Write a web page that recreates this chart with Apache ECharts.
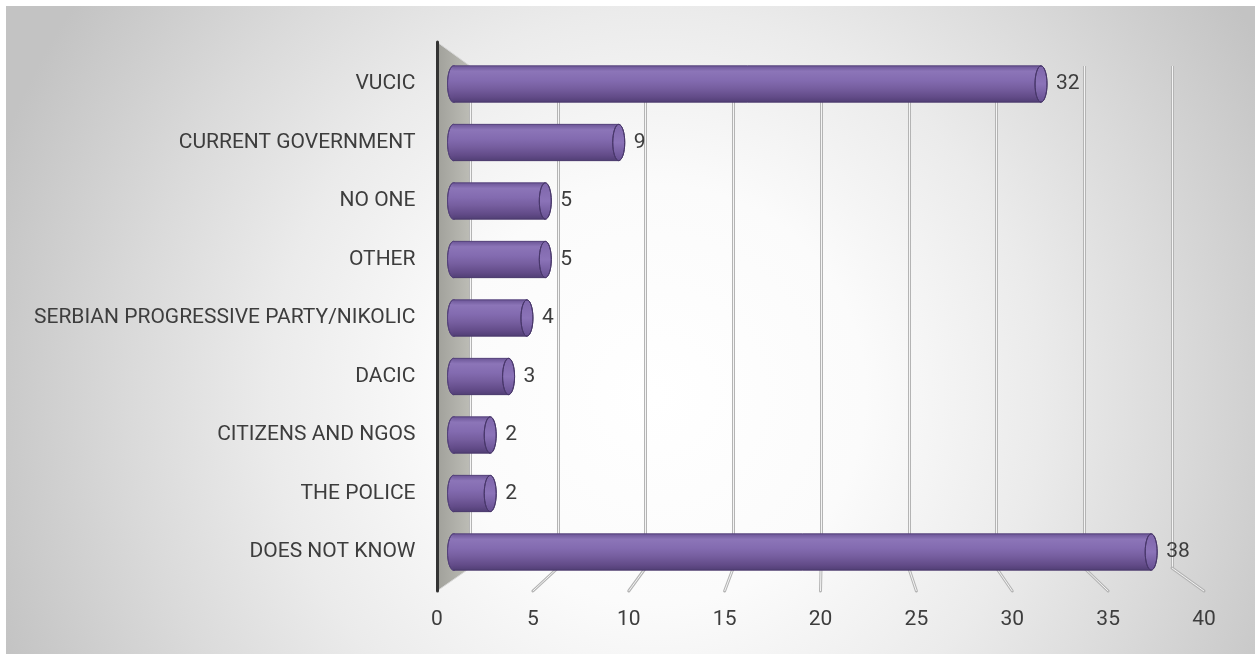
<!DOCTYPE html>
<html><head><meta charset="utf-8">
<script src="https://cdn.jsdelivr.net/npm/echarts@6/dist/echarts.min.js"></script>
<style>html,body{margin:0;padding:0;background:#fff}#c{width:1257px;height:655px}</style>
</head><body><div id="c"></div>
<script>
// ---- data ----
const categories = ['VUCIC', 'CURRENT GOVERNMENT', 'NO ONE', 'OTHER', 'SERBIAN PROGRESSIVE PARTY/NIKOLIC', 'DACIC', 'CITIZENS AND NGOS', 'THE POLICE', 'DOES NOT KNOW'];
const values = [32, 9, 5, 5, 4, 3, 2, 2, 38];
const xTicks = [0, 5, 10, 15, 20, 25, 30, 35, 40];
const xMin = 0, xMax = 40, xStep = 5;

const FONT = 'Roboto';
const TXT = '#3d3d3d';

const chart = echarts.init(document.getElementById('c'), null, {renderer: 'canvas'});

function cylinder(params, api) {
  const v = api.value(0), c = api.value(1);
  const s = api.coord([0, c]), e = api.coord([v, c]);
  const band = api.size([0, 1])[1];
  const h = band * 0.62, ry = h / 2, rx = 6;
  const cy = s[1];
  const grad = new echarts.graphic.LinearGradient(0, 0, 0, 1, [
    {offset: 0, color: '#6c5697'},
    {offset: 0.15, color: '#8c75b8'},
    {offset: 0.4, color: '#836bb0'},
    {offset: 0.62, color: '#765e9f'},
    {offset: 0.86, color: '#624b88'},
    {offset: 1, color: '#513f75'}
  ]);
  const capGrad = new echarts.graphic.LinearGradient(0, 0, 0, 1, [
    {offset: 0, color: '#7e66aa'},
    {offset: 0.5, color: '#8b73b8'},
    {offset: 1, color: '#664f90'}
  ]);
  return {
    type: 'group',
    children: [
      {type: 'ellipse', shape: {cx: s[0], cy: cy, rx: rx, ry: ry}, style: {fill: grad, stroke: '#54417a', lineWidth: 1}},
      {type: 'rect', shape: {x: s[0], y: cy - ry, width: e[0] - s[0], height: h}, style: {fill: grad}},
      {type: 'line', shape: {x1: s[0], y1: cy - ry, x2: e[0], y2: cy - ry}, style: {stroke: '#54417a', lineWidth: 1}},
      {type: 'line', shape: {x1: s[0], y1: cy + ry, x2: e[0], y2: cy + ry}, style: {stroke: '#4a396c', lineWidth: 1}},
      {type: 'ellipse', shape: {cx: e[0], cy: cy, rx: rx, ry: ry}, style: {fill: capGrad, stroke: '#48376a', lineWidth: 1}},
      {type: 'text', x: e[0] + rx + 9, y: cy, style: {text: String(v), fontSize: 21, fontFamily: FONT, fill: TXT, verticalAlign: 'middle', align: 'left'}}
    ]
  };
}

const option = {
  backgroundColor: '#ffffff',
  animation: false,
  grid: [
    {left: 453.5, width: 734.4, top: 54.75, height: 526.5},
    {left: 470, width: 702, top: 66, height: 502},
    {left: 437, width: 767, top: 42, height: 549}
  ],
  xAxis: [
    {gridIndex: 0, type: 'value', min: xMin, max: xMax, interval: xStep, show: false},
    {gridIndex: 1, type: 'value', min: xMin, max: xMax, interval: xStep, axisLine: {show: false}, axisTick: {show: false}, axisLabel: {show: false},
      splitLine: {show: true, lineStyle: {color: '#b4b4b4', width: 3}}},
    {gridIndex: 1, type: 'value', min: xMin, max: xMax, interval: xStep, axisLine: {show: false}, axisTick: {show: false}, axisLabel: {show: false},
      splitLine: {show: true, lineStyle: {color: '#f4f4f4', width: 1}}},
    {gridIndex: 2, type: 'value', min: xMin, max: xMax, interval: xStep, axisLine: {show: false}, axisTick: {show: false}, splitLine: {show: false},
      axisLabel: {margin: 18, fontSize: 21, fontFamily: FONT, color: TXT}}
  ],
  yAxis: [
    {gridIndex: 0, type: 'category', data: categories, inverse: true, axisLine: {show: false}, axisTick: {show: false},
      axisLabel: {margin: 38, fontSize: 21, fontFamily: FONT, color: TXT}},
    {gridIndex: 1, type: 'value', min: 0, max: 1, show: false},
    {gridIndex: 2, type: 'value', min: 0, max: 1, z: 3, axisLine: {show: true, onZero: false, lineStyle: {color: '#333333', width: 3}}, axisTick: {show: false}, axisLabel: {show: false}, splitLine: {show: false}}
  ],
  series: [{
    type: 'custom', xAxisIndex: 0, yAxisIndex: 0, renderItem: cylinder, z: 5,
    data: values.map((v, i) => [v, i]), encode: {x: 0, y: 1}
  }]
};
chart.setOption(option);

// 3D wall and floor ticks derived from the back (grid 1) and front (grid 2) scales
const back = (v, y) => chart.convertToPixel({xAxisIndex: 1, yAxisIndex: 1}, [v, y]);
const front = (v, y) => chart.convertToPixel({xAxisIndex: 3, yAxisIndex: 2}, [v, y]);
const g = [];
g.push({type: 'rect', z: -100, shape: {x: 6, y: 6, width: 1249, height: 648}, silent: true,
  style: {fill: {type: 'radial', x: 0.52, y: 0.6, r: 1.08, colorStops: [
    {offset: 0, color: '#ffffff'}, {offset: 0.3, color: '#fbfbfb'}, {offset: 0.55, color: '#ebebeb'},
    {offset: 0.75, color: '#dadada'}, {offset: 1, color: '#c3c3c3'}]}}});
const f1 = front(xMin, 1), b1 = back(xMin, 1), b0 = back(xMin, 0), f0 = front(xMin, 0);
g.push({type: 'polygon', z: -1, shape: {points: [f1, b1, b0, f0]},
  style: {fill: new echarts.graphic.LinearGradient(0, 0, 1, 0, [{offset: 0, color: '#a0a09a'}, {offset: 1, color: '#bdbdb6'}]), stroke: '#d8d8d8', lineWidth: 1}});
xTicks.filter(v => v > xMin).forEach(v => {
  const a = back(v, 0), b = front(v, 0);
  g.push({type: 'line', z: 1, shape: {x1: a[0], y1: a[1], x2: b[0], y2: b[1]}, style: {stroke: '#b4b4b4', lineWidth: 3, lineCap: 'round'}});
  g.push({type: 'line', z: 1, shape: {x1: a[0], y1: a[1], x2: b[0], y2: b[1]}, style: {stroke: '#f4f4f4', lineWidth: 1}});
});
chart.setOption({graphic: {elements: g}});
</script>
</body></html>
